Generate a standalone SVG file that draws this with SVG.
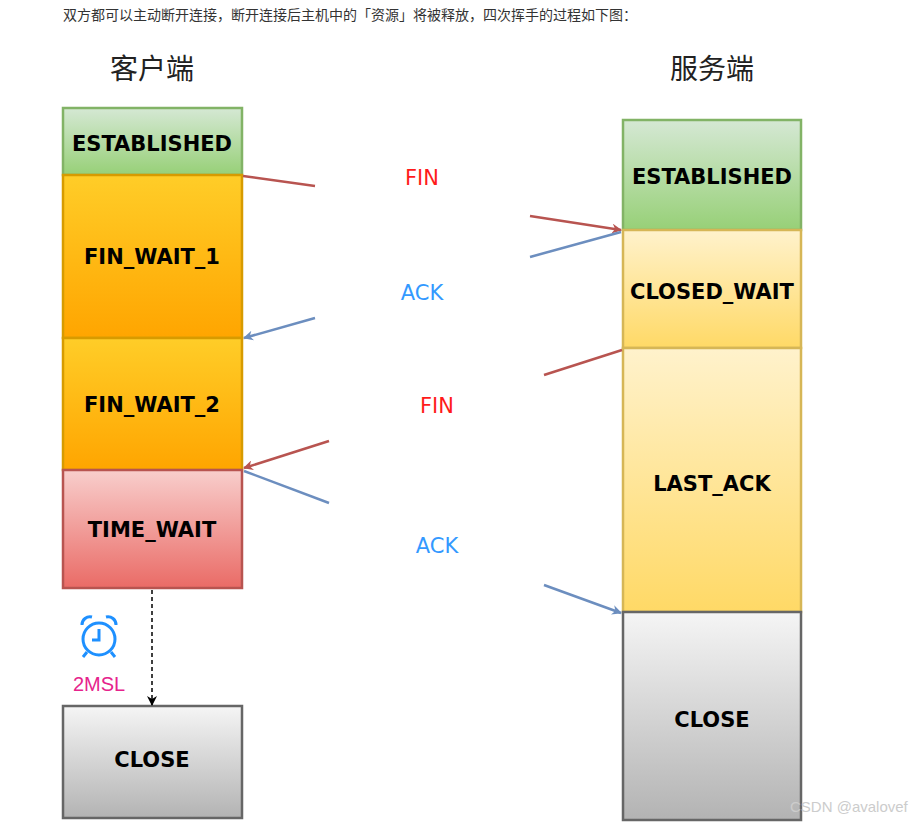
<svg xmlns="http://www.w3.org/2000/svg" width="924" height="828" viewBox="0 0 924 828">
<defs>
<linearGradient id="gGreen" x1="0" y1="0" x2="0" y2="1"><stop offset="0" stop-color="#d5e8d4"/><stop offset="1" stop-color="#97d077"/></linearGradient>
<linearGradient id="gOrange" x1="0" y1="0" x2="0" y2="1"><stop offset="0" stop-color="#ffcd28"/><stop offset="1" stop-color="#ffa500"/></linearGradient>
<linearGradient id="gRed" x1="0" y1="0" x2="0" y2="1"><stop offset="0" stop-color="#f8cecc"/><stop offset="1" stop-color="#ea6b66"/></linearGradient>
<linearGradient id="gGray" x1="0" y1="0" x2="0" y2="1"><stop offset="0" stop-color="#f5f5f5"/><stop offset="1" stop-color="#b3b3b3"/></linearGradient>
<linearGradient id="gYellow" x1="0" y1="0" x2="0" y2="1"><stop offset="0" stop-color="#fff2cc"/><stop offset="1" stop-color="#ffd966"/></linearGradient>
<marker id="hRed" markerWidth="10" markerHeight="10" refX="9" refY="5" orient="auto" markerUnits="userSpaceOnUse"><path d="M0,0 L10,5 L0,10 L3,5 z" fill="#b85450"/></marker>
<marker id="hBlue" markerWidth="10" markerHeight="10" refX="9" refY="5" orient="auto" markerUnits="userSpaceOnUse"><path d="M0,0 L10,5 L0,10 L3,5 z" fill="#6c8ebf"/></marker>
<marker id="hBlack" markerWidth="10" markerHeight="10" refX="9" refY="5" orient="auto" markerUnits="userSpaceOnUse"><path d="M0,0 L10,5 L0,10 L3,5 z" fill="#000"/></marker>
</defs>
<style>
.st{font-family:"Comic Sans MS","DejaVu Sans",sans-serif;font-weight:bold;font-size:21px;text-anchor:middle;dominant-baseline:central;fill:#000}
.lbl{font-family:"Comic Sans MS","DejaVu Sans",sans-serif;font-size:21px;text-anchor:middle;dominant-baseline:central}
.red{stroke:#b85450;stroke-width:2.5;fill:none}
.blue{stroke:#6c8ebf;stroke-width:2.5;fill:none}
</style>
<rect width="924" height="828" fill="#fff"/>
<text x="63" y="20" font-family="'Noto Sans CJK SC',sans-serif" font-size="14" fill="#333">双方都可以主动断开连接，断开连接后主机中的「资源」将被释放，四次挥手的过程如下图：</text>
<text x="152" y="67" font-family="'Noto Sans CJK SC',sans-serif" font-size="28" text-anchor="middle" dominant-baseline="central" fill="#222">客户端</text>
<text x="712" y="67" font-family="'Noto Sans CJK SC',sans-serif" font-size="28" text-anchor="middle" dominant-baseline="central" fill="#222">服务端</text>

<g id="c-established"><rect x="63" y="108" width="179" height="67" fill="url(#gGreen)" stroke="#82b366" stroke-width="2.5"/><text class="st" x="152" y="144">ESTABLISHED</text></g>
<g id="c-finwait1"><rect x="63" y="175" width="179" height="163" fill="url(#gOrange)" stroke="#d79b00" stroke-width="2.5"/><text class="st" x="152" y="257">FIN_WAIT_1</text></g>
<g id="c-finwait2"><rect x="63" y="338" width="179" height="132" fill="url(#gOrange)" stroke="#d79b00" stroke-width="2.5"/><text class="st" x="152" y="405">FIN_WAIT_2</text></g>
<g id="c-timewait"><rect x="63" y="470" width="179" height="118" fill="url(#gRed)" stroke="#b85450" stroke-width="2.5"/><text class="st" x="152" y="530">TIME_WAIT</text></g>
<g id="c-close"><rect x="63" y="706" width="179" height="112" fill="url(#gGray)" stroke="#666" stroke-width="2.5"/><text class="st" x="152" y="760">CLOSE</text></g>

<g id="s-established"><rect x="623" y="120" width="178" height="110" fill="url(#gGreen)" stroke="#82b366" stroke-width="2.5"/><text class="st" x="712" y="177">ESTABLISHED</text></g>
<g id="s-closedwait"><rect x="623" y="230" width="178" height="118" fill="url(#gYellow)" stroke="#d6b656" stroke-width="2.5"/><text class="st" x="712" y="292">CLOSED_WAIT</text></g>
<g id="s-lastack"><rect x="623" y="348" width="178" height="264" fill="url(#gYellow)" stroke="#d6b656" stroke-width="2.5"/><text class="st" x="712" y="484">LAST_ACK</text></g>
<g id="s-close"><rect x="623" y="612" width="178" height="208" fill="url(#gGray)" stroke="#666" stroke-width="2.5"/><text class="st" x="712" y="720">CLOSE</text></g>

<g id="connectors">
<line class="red" x1="243" y1="176" x2="315" y2="186"/>
<line class="red" x1="530" y1="216" x2="621" y2="230" marker-end="url(#hRed)"/>
<line class="blue" x1="621" y1="232" x2="530" y2="257"/>
<line class="blue" x1="315" y1="318" x2="244" y2="338" marker-end="url(#hBlue)"/>
<line class="red" x1="622" y1="350" x2="544" y2="375"/>
<line class="red" x1="329" y1="441" x2="244" y2="468" marker-end="url(#hRed)"/>
<line class="blue" x1="244" y1="471" x2="329" y2="503"/>
<line class="blue" x1="544" y1="585" x2="621" y2="613" marker-end="url(#hBlue)"/>
<line x1="152" y1="590" x2="152" y2="705" stroke="#000" stroke-width="1.5" stroke-dasharray="4,3" marker-end="url(#hBlack)"/>
</g>
<text class="lbl" x="422" y="178" fill="#ff1a1a">FIN</text>
<text class="lbl" x="422" y="293" fill="#3399ff">ACK</text>
<text class="lbl" x="437" y="406" fill="#ff1a1a">FIN</text>
<text class="lbl" x="437" y="546" fill="#3399ff">ACK</text>

<g id="clock" fill="none" stroke="#1e90ff" stroke-width="3">
<circle cx="99" cy="639" r="16"/>
<path d="M99,629 V640 H92"/>
<path d="M82,625 a8,8 0 0 1 10,-8 M116,625 a8,8 0 0 0 -10,-8" />
<path d="M87,652 L83,657 M111,652 L115,657"/>
</g>
<text x="99" y="684" font-family="'Liberation Sans',Arial,sans-serif" font-size="20" text-anchor="middle" dominant-baseline="central" fill="#e6238c">2MSL</text>
<text x="790" y="812" font-family="'Liberation Sans',Arial,sans-serif" font-size="15" fill="#ccc">CSDN @avalovef</text>
</svg>
